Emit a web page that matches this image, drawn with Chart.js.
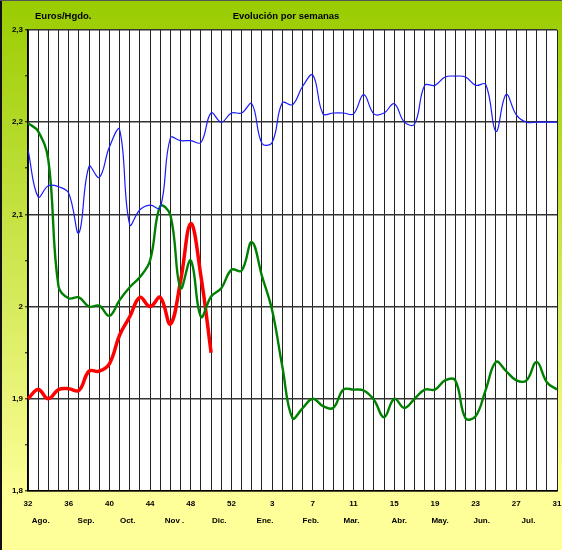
<!DOCTYPE html>
<html>
<head>
<meta charset="utf-8">
<script src="https://cdn.jsdelivr.net/npm/chart.js@4/dist/chart.umd.min.js"></script>
<style>
  html, body { margin: 0; padding: 0; background: #fff; }
  #wrap { width: 562px; height: 550px; }
</style>
</head>
<body>
<div id="wrap"><canvas id="c" width="562" height="550"></canvas></div>
<script>
// ---- data ----
const weeks = [32,33,34,35,36,37,38,39,40,41,42,43,44,45,46,47,48,49,50,51,52,53,
               1,2,3,4,5,6,7,8,9,10,11,12,13,14,15,16,17,18,19,20,21,22,23,24,25,26,27,28,29,30,31];

const blueSeries = [2.170,2.119,2.131,2.130,2.123,2.080,2.152,2.140,2.173,2.192,
                    2.089,2.105,2.110,2.107,2.183,2.180,2.180,2.178,2.210,2.200,
                    2.210,2.210,2.220,2.177,2.178,2.221,2.219,2.239,2.251,2.209,
                    2.210,2.210,2.209,2.230,2.209,2.210,2.220,2.200,2.198,2.240,
                    2.240,2.249,2.250,2.249,2.240,2.241,2.190,2.230,2.208,2.200,
                    2.200,2.200,2.200];

const greenSeries = [2.199,2.190,2.159,2.022,2.009,2.010,2.000,2.001,1.990,2.007,
                     2.021,2.032,2.050,2.109,2.099,2.020,2.050,1.989,2.011,2.020,
                     2.040,2.039,2.070,2.033,1.996,1.935,1.879,1.890,1.900,1.892,
                     1.890,1.910,1.910,1.909,1.899,1.880,1.900,1.890,1.900,1.910,
                     1.910,1.920,1.920,1.879,1.881,1.910,1.940,1.930,1.920,1.920,
                     1.940,1.918,1.910];

const redSeries = [1.900,1.910,1.900,1.910,1.911,1.909,1.930,1.930,1.938,1.969,
                   1.989,2.010,2.000,2.010,1.981,2.028,2.090,2.033,1.950];

const monthNames = ["Ago.","Sep.","Oct.","Nov .","Dic.","Ene.","Feb.","Mar.","Abr.","May.","Jun.","Jul."];
const monthAnchors = [1.25,5.7,9.8,14.4,18.8,23.3,27.8,31.8,36.5,40.5,44.6,49.2];

const yMin = 1.8, yMax = 2.3;
const titleText = "Evolución por semanas";
const unitText = "Euros/Hgdo.";

// ---- helpers ----
function isMajor(v) { return Math.abs(v * 10 - Math.round(v * 10)) < 1e-6; }
function fmt(v) { return (Math.round(v * 10) / 10).toString().replace('.', ','); }
const FONT = "'Liberation Sans', Arial, sans-serif";

const bgPlugin = {
  id: 'bg',
  beforeDraw(chart) {
    const { ctx, width, height, chartArea: a } = chart;
    ctx.save();
    const g = ctx.createLinearGradient(0, 0, 0, 500);
    g.addColorStop(0, '#99CC00');
    g.addColorStop(1, '#FFFF99');
    ctx.fillStyle = g;
    ctx.fillRect(0, 0, width, height);
    ctx.fillStyle = '#FFFFFF';
    ctx.fillRect(a.left, a.top, a.right - a.left, a.bottom - a.top);
    ctx.restore();
  },
  afterDraw(chart) {
    const { ctx, width, height } = chart;
    ctx.save();
    ctx.fillStyle = '#111';
    ctx.fillRect(0, 0, 2, height);
    ctx.fillStyle = '#555';
    ctx.fillRect(0, 0, width, 1);
    ctx.fillStyle = '#000';
    ctx.font = 'bold 9.5px ' + FONT;
    ctx.textBaseline = 'middle';
    ctx.textAlign = 'left';
    ctx.fillText(unitText, 35, 16);
    ctx.textAlign = 'center';
    ctx.fillText(titleText, 286, 16);
    const xs = chart.scales.x;
    ctx.font = 'bold 8px ' + FONT;
    monthNames.forEach((m, i) => {
      ctx.fillText(m, xs.getPixelForValue(monthAnchors[i]), 521);
    });
    ctx.restore();
  }
};

new Chart(document.getElementById('c'), {
  type: 'line',
  data: {
    labels: weeks.map(String),
    datasets: [
      { data: blueSeries, borderColor: '#1a1aff', borderWidth: 1.2, pointRadius: 0, tension: 0.4, fill: false },
      { data: greenSeries, borderColor: '#008000', borderWidth: 2.4, pointRadius: 0, tension: 0.4, fill: false },
      { data: redSeries, borderColor: '#FF0000', borderWidth: 3.5, pointRadius: 0, tension: 0.4, fill: false }
    ]
  },
  options: {
    responsive: false,
    devicePixelRatio: 1,
    animation: false,
    layout: { padding: { top: 30, right: 5, left: 0, bottom: 0 } },
    plugins: { legend: { display: false }, tooltip: { enabled: false }, title: { display: false } },
    scales: {
      x: {
        type: 'category',
        offset: false,
        afterFit(s) { s.height = 59; s.paddingLeft = 0; s.paddingRight = 0; },
        grid: { color: '#222', lineWidth: 1, drawTicks: false },
        border: { color: '#000', width: 1.5 },
        ticks: {
          autoSkip: false, maxRotation: 0, padding: 8,
          color: '#000', font: { family: FONT, size: 8, weight: 'bold' },
          callback(v, i) { return i % 4 === 0 ? weeks[i] : ''; }
        }
      },
      y: {
        min: yMin, max: yMax,
        afterFit(s) { s.width = 28; s.paddingTop = 0; s.paddingBottom = 0; },
        grid: {
          color: (c) => isMajor(c.tick.value) ? '#333' : 'rgba(0,0,0,0)',
          lineWidth: 1.6,
          tickColor: '#000', tickLength: 3, tickWidth: 1
        },
        border: { color: '#000', width: 1.5 },
        ticks: {
          stepSize: 0.05, padding: 2, color: '#000',
          font: { family: FONT, size: 8, weight: 'bold' },
          callback(v) { return isMajor(v) ? fmt(v) : ''; }
        }
      }
    }
  },
  plugins: [bgPlugin]
});
</script>
</body>
</html>
